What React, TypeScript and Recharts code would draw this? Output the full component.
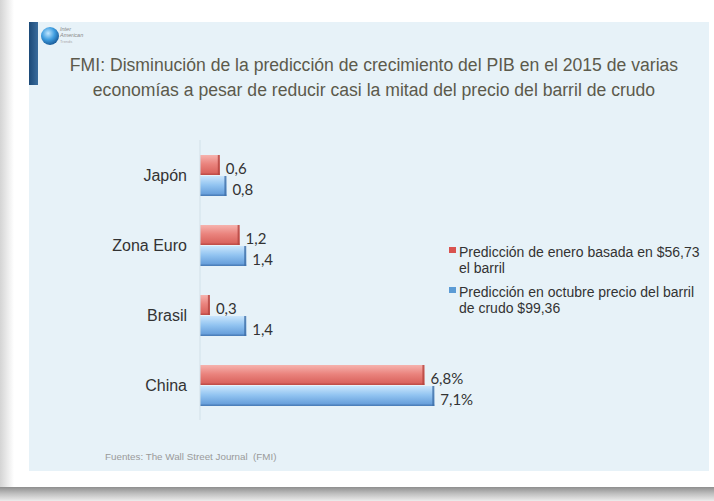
import { BarChart, Bar, XAxis, YAxis, LabelList, Legend } from 'recharts';

// values
const countries = ['Japón', 'Zona Euro', 'Brasil', 'China'];
const januaryForecast = [0.6, 1.2, 0.3, 6.8];
const octoberForecast = [0.8, 1.4, 1.4, 7.1];
const labelUnits = ['', '', '', '%'];

// legend texts, broken where the slide breaks them
const seriesNames = [
  'Predicción de enero basada en $56,73\nel barril',
  'Predicción en octubre precio del barril\nde crudo $99,36',
];
const legendColors = ['#d9534f', '#5b9bd5'];

const fmt = (v: number, unit: string) => v.toFixed(1).replace('.', ',') + unit;

const data = countries.map((name, i) => ({
  name,
  enero: januaryForecast[i],
  octubre: octoberForecast[i],
  eneroLabel: fmt(januaryForecast[i], labelUnits[i]),
  octubreLabel: fmt(octoberForecast[i], labelUnits[i]),
}));

const BevelBar = (props: any) => {
  const { x, y, width, height, fill, edge } = props;
  if (!width || width <= 0) return null;
  return (
    <g>
      <rect x={x} y={y} width={width} height={height} fill={fill} />
      <rect x={x + width - 2} y={y} width={2} height={height} fill={edge} opacity={0.8} />
      <rect x={x} y={y + height - 1.5} width={width} height={1.5} fill={edge} opacity={0.6} />
    </g>
  );
};

const ValueLabel = (props: any) => {
  const { x, y, width, height, value } = props;
  return (
    <text
      x={x + width + 6}
      y={y + height / 2 + 3}
      dominantBaseline="central"
      fontFamily="Lato, 'Open Sans', sans-serif"
      fontSize={15}
      fill="#333"
    >
      {value}
    </text>
  );
};

const renderLegend = () => (
  <div style={{ fontFamily: '"Liberation Sans", Arial, sans-serif', fontSize: 14, color: '#333', lineHeight: '16px' }}>
    {seriesNames.map((n, i) => (
      <div key={n} style={{ display: 'flex', alignItems: 'flex-start', marginBottom: 8 }}>
        <span
          style={{
            display: 'inline-block',
            width: 7,
            height: 6,
            marginTop: 3,
            marginRight: 3,
            background: legendColors[i],
            flex: 'none',
          }}
        />
        <span style={{ whiteSpace: 'pre' }}>{n}</span>
      </div>
    ))}
  </div>
);

export default function App() {
  return (
    <div
      style={{
        position: 'absolute',
        left: 0,
        top: 0,
        width: 714,
        height: 501,
        background: '#fff',
        overflow: 'hidden',
        fontFamily: '"Liberation Sans", Arial, sans-serif',
      }}
    >
      {/* frame shadows */}
      <div style={{ position: 'absolute', left: 0, top: 0, width: 14, height: 487, background: 'linear-gradient(to right, #d4d4d4, #eeeeee 60%, #ffffff)' }} />
      <div style={{ position: 'absolute', left: 0, top: 487, width: 714, height: 14, background: 'linear-gradient(to bottom, #8e8e8e, #bdbdbd 45%, #ececec)' }} />

      {/* slide */}
      <div style={{ position: 'absolute', left: 29, top: 22, width: 680, height: 449, background: '#e7f2f8' }} />
      <div style={{ position: 'absolute', left: 29, top: 22, width: 9, height: 63, background: 'linear-gradient(to right, #1c4a78, #3a6c9c)' }} />

      {/* logo */}
      <svg style={{ position: 'absolute', left: 38, top: 22 }} width={60} height={28}>
        <defs>
          <radialGradient id="globe" cx="40%" cy="35%" r="65%">
            <stop offset="0%" stopColor="#bfe6ff" />
            <stop offset="55%" stopColor="#3f9ee0" />
            <stop offset="100%" stopColor="#1b5e9c" />
          </radialGradient>
        </defs>
        <circle cx={12} cy={14} r={9} fill="url(#globe)" />
        <text x={22} y={9} fontSize={5.5} fontStyle="italic" fill="#888">Inter</text>
        <text x={22} y={15} fontSize={5.5} fontStyle="italic" fill="#888">American</text>
        <text x={22} y={21} fontSize={4} fill="#aaa">Trends</text>
      </svg>

      {/* title */}
      <div
        style={{
          position: 'absolute',
          left: 29,
          top: 53,
          width: 690,
          textAlign: 'center',
          fontSize: 17.6,
          lineHeight: '25px',
          color: '#5c5a4c',
        }}
      >
        FMI: Disminución de la predicción de crecimiento del PIB en el 2015 de varias
        <br />
        economías a pesar de reducir casi la mitad del precio del barril de crudo
      </div>

      {/* source */}
      <div style={{ position: 'absolute', left: 105, top: 451, fontSize: 9.8, color: '#9a9a9a' }}>
        Fuentes: The Wall Street Journal&nbsp;&nbsp;(FMI)
      </div>

      <div style={{ position: 'absolute', left: 0, top: 0 }}>
        <BarChart
          width={714}
          height={501}
          data={data}
          layout="vertical"
          margin={{ top: 140, right: 184, bottom: 81, left: 0 }}
          barCategoryGap={15}
          barGap={1}
        >
          <defs>
            <linearGradient id="redFill" x1="0" y1="0" x2="0" y2="1">
              <stop offset="0%" stopColor="#f6b3ae" />
              <stop offset="45%" stopColor="#ea837d" />
              <stop offset="100%" stopColor="#d65d57" />
            </linearGradient>
            <linearGradient id="blueFill" x1="0" y1="0" x2="0" y2="1">
              <stop offset="0%" stopColor="#cbe6fc" />
              <stop offset="45%" stopColor="#92c4f1" />
              <stop offset="100%" stopColor="#5e97d6" />
            </linearGradient>
          </defs>
          <XAxis type="number" domain={[0, 10]} hide />
          <YAxis
            type="category"
            dataKey="name"
            width={200}
            tickLine={false}
            tickMargin={7}
            axisLine={{ stroke: '#d2e1e9' }}
            tick={{ fill: '#333', fontSize: 16, fontFamily: '"Liberation Sans", Arial, sans-serif' }}
          />
          <Legend
            content={renderLegend}
            layout="horizontal"
            verticalAlign="middle"
            align="center"
            wrapperStyle={{ left: 449, top: 244, width: 262 }}
          />
          <Bar
            dataKey="enero"
            name={seriesNames[0]}
            fill="url(#redFill)"
            shape={(p: any) => <BevelBar {...p} edge="#b4443f" />}
            isAnimationActive={false}
          >
            <LabelList dataKey="eneroLabel" content={ValueLabel} />
          </Bar>
          <Bar
            dataKey="octubre"
            name={seriesNames[1]}
            fill="url(#blueFill)"
            shape={(p: any) => <BevelBar {...p} edge="#3f6fa8" />}
            isAnimationActive={false}
          >
            <LabelList dataKey="octubreLabel" content={ValueLabel} />
          </Bar>
        </BarChart>
      </div>
    </div>
  );
}
